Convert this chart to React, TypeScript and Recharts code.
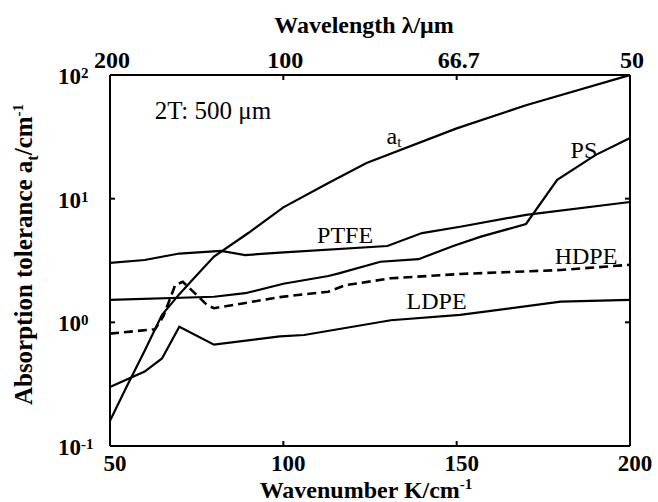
import { LineChart, Line, XAxis, YAxis, ReferenceDot, Label } from 'recharts';

const FONT = '"Liberation Serif", "Times New Roman", serif';

// wavenumber K (cm^-1) and absorption tolerance (cm^-1)
const atK = [50, 55, 60, 65, 70, 75, 80, 90, 100, 113, 124, 150, 170, 200];
const atVal = [0.16, 0.31, 0.59, 1.15, 1.69, 2.4, 3.4, 5.3, 8.5, 13.4, 19.4, 37, 57, 100];

const ptfeK = [50, 60, 70, 82, 89, 99, 130, 140, 151, 170, 200];
const ptfeVal = [3.03, 3.19, 3.6, 3.78, 3.5, 3.66, 4.14, 5.27, 5.93, 7.4, 9.4];

const psK = [50, 80, 89, 100, 113, 116, 128, 139, 149, 157, 170, 179, 190, 200];
const psVal = [1.52, 1.61, 1.72, 2.05, 2.37, 2.49, 3.09, 3.24, 4.14, 4.93, 6.24, 14.2, 22.5, 31];

const hdpeK = [50, 63, 65.4, 68.8, 71, 78, 80, 99, 113, 118, 131, 151, 180, 200];
const hdpeVal = [0.81, 0.88, 1.12, 2.0, 2.13, 1.38, 1.3, 1.6, 1.77, 2.0, 2.27, 2.46, 2.65, 2.92];

const ldpeK = [50, 60, 65, 70, 80, 99, 106, 131, 151, 180, 200];
const ldpeVal = [0.3, 0.4, 0.51, 0.92, 0.66, 0.77, 0.79, 1.04, 1.15, 1.47, 1.52];

const xTicks = [50, 100, 150, 200];
const wavelengthLabels = ['200', '100', '66.7', '50'];
const yTicks = [0.1, 1, 10, 100];

// curve labels placed in data coordinates
const notes = [
  { text: 'PTFE', K: 117.8, v: 5.08 },
  { text: 'PS', K: 186.7, v: 24.7 },
  { text: 'HDPE', K: 187.3, v: 3.44 },
  { text: 'LDPE', K: 144.2, v: 1.49 },
];

const toRows = (ks: number[], vs: number[]) => ks.map((K, i) => ({ K, v: vs[i] }));

// the top / right axes share the same scales, so some curves are hung on them
// to make recharts draw their ticks
const series = [
  { name: 'at', data: toRows(atK, atVal), dash: undefined, xId: 'bottom', yId: 'left' },
  { name: 'PTFE', data: toRows(ptfeK, ptfeVal), dash: undefined, xId: 'top', yId: 'right' },
  { name: 'PS', data: toRows(psK, psVal), dash: undefined, xId: 'bottom', yId: 'left' },
  { name: 'HDPE', data: toRows(hdpeK, hdpeVal), dash: '9 5', xId: 'bottom', yId: 'left' },
  { name: 'LDPE', data: toRows(ldpeK, ldpeVal), dash: undefined, xId: 'bottom', yId: 'left' },
];

const txt = { fontFamily: FONT, fill: '#000' };

const LeftTick = (props: any) => {
  const { x, y, payload } = props;
  const exp = Math.round(Math.log10(payload.value));
  return (
    <g>
      <line x1={x} y1={y} x2={x + 5} y2={y} stroke="#000" strokeWidth={2} />
      <text x={x - 52} y={y + 9} fontSize={23} fontWeight="bold" {...txt}>
        10<tspan dy={-6} fontSize={15}>{exp}</tspan>
      </text>
    </g>
  );
};

const RightTick = (props: any) => {
  const { x, y } = props;
  return <line x1={x} y1={y} x2={x - 5} y2={y} stroke="#000" strokeWidth={2} />;
};

const BottomTick = (props: any) => {
  const { x, y, payload } = props;
  return (
    <g>
      <line x1={x} y1={y} x2={x} y2={y - 5} stroke="#000" strokeWidth={2} />
      <text x={x + 5} y={y + 25} textAnchor="middle" fontSize={23} fontWeight="bold" {...txt}>
        {payload.value}
      </text>
    </g>
  );
};

const TopTick = (props: any) => {
  const { x, y, index } = props;
  return (
    <g>
      <line x1={x} y1={y} x2={x} y2={y + 5} stroke="#000" strokeWidth={2} />
      <text x={x + 2} y={y - 7} textAnchor="middle" fontSize={24} fontWeight="bold" {...txt}>
        {wavelengthLabels[index]}
      </text>
    </g>
  );
};

const TopTitle = ({ viewBox }: any) => (
  <text x={viewBox.x + viewBox.width / 2 - 6} y={viewBox.y + 33} textAnchor="middle" fontSize={24} fontWeight="bold" {...txt}>
    Wavelength λ/μm
  </text>
);

const BottomTitle = ({ viewBox }: any) => (
  <text x={viewBox.x + viewBox.width / 2 - 4} y={viewBox.y + 52} textAnchor="middle" fontSize={24} fontWeight="bold" {...txt}>
    Wavenumber K/cm<tspan dy={-9} fontSize={15}>-1</tspan>
  </text>
);

const LeftTitle = ({ viewBox }: any) => {
  const cx = 32;
  const cy = viewBox.y + viewBox.height / 2 - 6;
  return (
    <text x={cx} y={cy} transform={`rotate(-90 ${cx} ${cy})`} textAnchor="middle" fontSize={25} fontWeight="bold" {...txt}>
      Absorption tolerance a<tspan dy={6} fontSize={16}>t</tspan>
      <tspan dy={-6}>/cm</tspan>
      <tspan dy={-9} fontSize={15}>-1</tspan>
    </text>
  );
};

export default function App() {
  return (
    <div style={{ position: 'absolute', left: 0, top: 0, background: '#fff' }}>
      <LineChart width={658} height={502} margin={{ top: 0, right: 0, bottom: 0, left: 0 }}>
        <XAxis
          xAxisId="bottom"
          dataKey="K"
          type="number"
          domain={[50, 200]}
          ticks={xTicks}
          height={56}
          orientation="bottom"
          axisLine={{ stroke: '#000', strokeWidth: 2 }}
          tickLine={false}
          tickSize={0}
          tickMargin={0}
          tick={<BottomTick />}
          interval={0}
          allowDataOverflow
        >
          <Label content={<BottomTitle />} />
        </XAxis>
        <XAxis
          xAxisId="top"
          dataKey="K"
          type="number"
          domain={[50, 200]}
          ticks={xTicks}
          height={75}
          orientation="top"
          axisLine={{ stroke: '#000', strokeWidth: 2 }}
          tickLine={false}
          tickSize={0}
          tickMargin={0}
          tick={<TopTick />}
          interval={0}
          allowDataOverflow
        >
          <Label content={<TopTitle />} />
        </XAxis>
        <YAxis
          yAxisId="left"
          type="number"
          scale="log"
          domain={[0.1, 100]}
          ticks={yTicks}
          width={110}
          orientation="left"
          axisLine={{ stroke: '#000', strokeWidth: 2 }}
          tickLine={false}
          tickSize={0}
          tickMargin={0}
          tick={<LeftTick />}
          interval={0}
          allowDataOverflow
        >
          <Label content={<LeftTitle />} />
        </YAxis>
        <YAxis
          yAxisId="right"
          type="number"
          scale="log"
          domain={[0.1, 100]}
          ticks={yTicks}
          width={28}
          orientation="right"
          axisLine={{ stroke: '#000', strokeWidth: 2 }}
          tickLine={false}
          tickSize={0}
          tickMargin={0}
          tick={<RightTick />}
          interval={0}
          allowDataOverflow
        />
        {series.map((s) => (
          <Line
            key={s.name}
            xAxisId={s.xId}
            yAxisId={s.yId}
            data={s.data}
            dataKey="v"
            type="linear"
            stroke="#000"
            strokeWidth={s.dash ? 2.6 : 2.2}
            strokeDasharray={s.dash}
            dot={false}
            isAnimationActive={false}
          />
        ))}
        <ReferenceDot
          xAxisId="bottom"
          yAxisId="left"
          x={79.7}
          y={52}
          r={0}
          shape={(p: any) => (
            <text x={p.cx} y={p.cy} textAnchor="middle" dominantBaseline="central" fontSize={25} {...txt}>
              2T: 500 μm
            </text>
          )}
        />
        <ReferenceDot
          xAxisId="bottom"
          yAxisId="left"
          x={131.9}
          y={32.1}
          r={0}
          shape={(p: any) => (
            <text x={p.cx} y={p.cy} textAnchor="middle" dominantBaseline="central" fontSize={24} {...txt}>
              a<tspan dy={6} fontSize={15}>t</tspan>
            </text>
          )}
        />
        {notes.map((n) => (
          <ReferenceDot
            key={n.text}
            xAxisId="bottom"
            yAxisId="left"
            x={n.K}
            y={n.v}
            r={0}
            shape={(p: any) => (
              <text x={p.cx} y={p.cy} textAnchor="middle" dominantBaseline="central" fontSize={24} {...txt}>
                {n.text}
              </text>
            )}
          />
        ))}
      </LineChart>
    </div>
  );
}
